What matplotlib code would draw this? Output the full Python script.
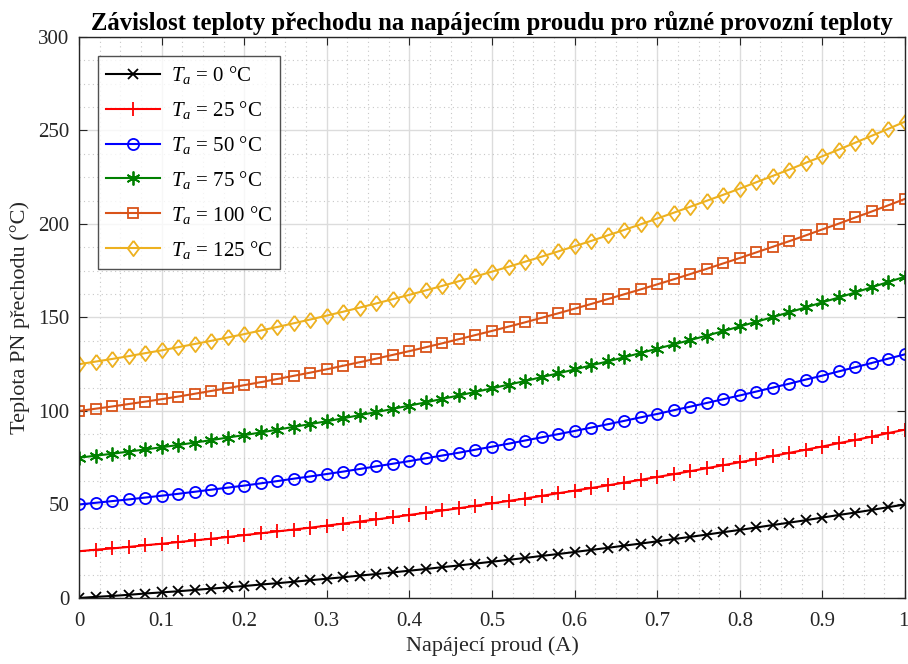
import numpy as np
import matplotlib
matplotlib.use("Agg")
import matplotlib.pyplot as plt
import matplotlib.transforms as mtransforms
from matplotlib.ticker import AutoMinorLocator

plt.rcParams['font.family'] = ['Liberation Serif', 'DejaVu Serif']
plt.rcParams['mathtext.fontset'] = 'custom'
plt.rcParams['mathtext.rm'] = 'Liberation Serif'
plt.rcParams['mathtext.it'] = 'Liberation Serif:italic'

# supply current (A), 51 samples
current = np.round(np.arange(51) * 0.02, 2)

ambient = [0, 25, 50, 75, 100, 125]

t_0 = [0.0, 0.6, 1.1, 1.7, 2.4, 3.0, 3.6, 4.3, 5.0, 5.7, 6.4, 7.2, 7.9, 8.7, 9.5,
       10.3, 11.1, 12.0, 12.8, 13.7, 14.6, 15.5, 16.5, 17.4, 18.4, 19.4, 20.4,
       21.4, 22.5, 23.5, 24.6, 25.7, 26.8, 28.0, 29.1, 30.3, 31.5, 32.7, 33.9,
       35.2, 36.4, 37.7, 39.0, 40.3, 41.6, 43.0, 44.4, 45.7, 47.1, 48.6, 50.0]
t_25 = [25.0, 25.8, 26.5, 27.3, 28.2, 29.0, 29.9, 30.8, 31.7, 32.6, 33.6, 34.6,
        35.6, 36.6, 37.6, 38.7, 39.8, 40.9, 42.0, 43.2, 44.4, 45.6, 46.8, 48.0,
        49.3, 50.6, 51.9, 53.2, 54.6, 56.0, 57.4, 58.8, 60.2, 61.7, 63.2, 64.7,
        66.2, 67.8, 69.4, 71.0, 72.6, 74.2, 75.9, 77.6, 79.3, 81.0, 82.8, 84.5,
        86.3, 88.2, 90.0]
t_50 = [50.0, 50.9, 51.8, 52.7, 53.7, 54.7, 55.7, 56.8, 57.9, 59.0, 60.1, 61.3,
        62.5, 63.8, 65.0, 66.3, 67.6, 69.0, 70.4, 71.8, 73.2, 74.7, 76.2, 77.7,
        79.3, 80.9, 82.5, 84.2, 85.9, 87.6, 89.3, 91.1, 92.9, 94.7, 96.6, 98.4,
        100.4, 102.3, 104.3, 106.3, 108.3, 110.4, 112.5, 114.6, 116.8, 118.9,
        121.2, 123.4, 125.7, 128.0, 130.3]
t_75 = [75.0, 76.1, 77.1, 78.3, 79.4, 80.6, 81.8, 83.1, 84.4, 85.8, 87.1, 88.5,
        90.0, 91.5, 93.0, 94.5, 96.1, 97.8, 99.4, 101.1, 102.9, 104.6, 106.5,
        108.3, 110.2, 112.1, 114.1, 116.0, 118.1, 120.1, 122.2, 124.4, 126.5,
        128.7, 131.0, 133.3, 135.6, 137.9, 140.3, 142.7, 145.2, 147.7, 150.2,
        152.8, 155.4, 158.1, 160.7, 163.4, 166.2, 169.0, 171.8]
t_100 = [100.0, 101.2, 102.4, 103.7, 105.0, 106.3, 107.7, 109.2, 110.7, 112.2,
         113.8, 115.4, 117.1, 118.8, 120.5, 122.3, 124.2, 126.1, 128.0, 130.0,
         132.0, 134.1, 136.2, 138.4, 140.6, 142.8, 145.1, 147.4, 149.8, 152.2,
         154.7, 157.2, 159.8, 162.4, 165.0, 167.7, 170.4, 173.2, 176.0, 178.9,
         181.8, 184.8, 187.8, 190.8, 193.9, 197.1, 200.2, 203.5, 206.7, 210.0,
         213.4]
t_125 = [125.0, 126.4, 127.8, 129.3, 130.9, 132.4, 134.1, 135.8, 137.5, 139.3,
         141.1, 143.0, 144.9, 146.9, 148.9, 151.0, 153.1, 155.3, 157.5, 159.8,
         162.1, 164.5, 166.9, 169.4, 171.9, 174.5, 177.1, 179.8, 182.5, 185.3,
         188.1, 190.9, 193.9, 196.8, 199.8, 202.9, 206.0, 209.2, 212.4, 215.6,
         218.9, 222.3, 225.7, 229.1, 232.7, 236.2, 239.8, 243.5, 247.2, 250.9,
         254.7]

series = [t_0, t_25, t_50, t_75, t_100, t_125]
colors = ['black', 'red', 'blue', (0, 0.5, 0), (0.85, 0.325, 0.098), (0.929, 0.694, 0.125)]
diamond = [(0, 1), (0.75, 0), (0, -1), (-0.75, 0), (0, 1)]
markers = ['x', '+', 'o', (6, 2, 0), 's', diamond]
msizes = [7, 10, 8, 10, 7, 11]

fig = plt.figure(figsize=(9.08, 6.64), dpi=100)
ax = fig.add_axes([0.087, 0.0994, 0.9097, 0.845])

for ta, temps, c, m, ms in zip(ambient, series, colors, markers, msizes):
    ax.plot(current, temps, color=c, lw=1.5, marker=m, markersize=ms,
            markerfacecolor='none', markeredgecolor=c, markeredgewidth=1.3,
            label=r'$T_a$ = %d °C' % ta)

ax.set_xlim(0, 1)
ax.set_ylim(0, 300)
ax.set_xticks(np.arange(0, 1.01, 0.1))
ax.set_xticklabels(['0', '0.1', '0.2', '0.3', '0.4', '0.5', '0.6', '0.7', '0.8', '0.9', '1'])
ax.set_yticks(np.arange(0, 301, 50))
ax.xaxis.set_minor_locator(AutoMinorLocator(4))
ax.yaxis.set_minor_locator(AutoMinorLocator(4))
ax.grid(True, which='major', color='#dcdcdc', lw=1.0)
ax.grid(True, which='minor', color='#c8c8c8', lw=0.8, linestyle=(0, (1, 3)))
ax.set_axisbelow(True)
ax.tick_params(which='major', direction='in', length=6, top=True, right=True,
               labelsize=15, colors='#262626')
ax.tick_params(axis='x', which='major', pad=10)
ax.tick_params(axis='y', which='major', pad=7)
ax.tick_params(which='minor', length=0)
for s in ax.spines.values():
    s.set_color('#262626')
    s.set_linewidth(1.0)

# nudge the last x label so it stays inside the figure
last = ax.get_xticklabels()[-1]
last.set_transform(last.get_transform() +
                   mtransforms.ScaledTranslation(-2 / 100, 0, fig.dpi_scale_trans))

ax.set_xlabel('Napájecí proud (A)', fontsize=16, color='#262626', labelpad=4)
ax.set_ylabel('Teplota PN přechodu (°C)', fontsize=16, color='#262626', labelpad=6)
ax.set_title('Závislost teploty přechodu na napájecím proudu pro různé provozní teploty',
             fontsize=17.8, fontweight='bold', pad=5)

leg = ax.legend(loc='upper left', fontsize=15, frameon=True, fancybox=False,
                edgecolor='#262626', handlelength=2.6, handletextpad=0.5,
                labelspacing=0.62, borderaxespad=0.9)
leg.get_frame().set_linewidth(1.0)

fig.savefig('out.png', dpi=100)
